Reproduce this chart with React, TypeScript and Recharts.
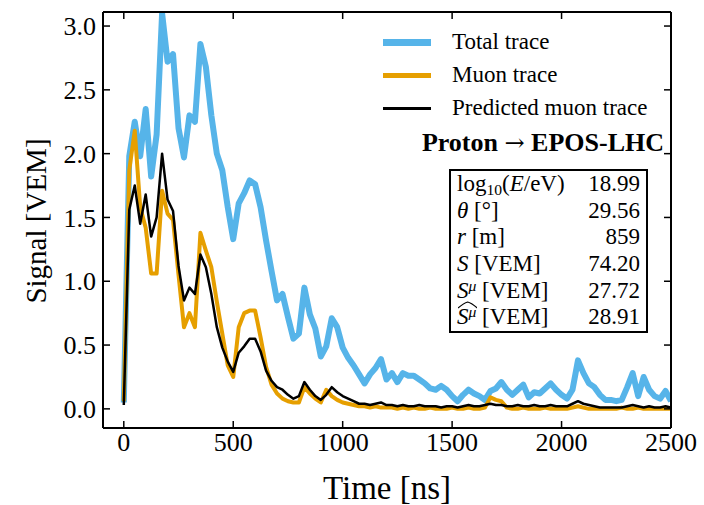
import { Line, LineChart, XAxis, YAxis } from "recharts";

// 25 ns FADC bins
const BIN_NS = 25;

const totalTrace = [
  0.05, 1.98, 2.25, 1.98, 2.35, 1.82, 2.15, 3.1, 2.72, 2.78,
  2.2, 1.97, 2.3, 2.25, 2.86, 2.68, 2.3, 2.0, 1.87, 1.58,
  1.33, 1.61, 1.69, 1.79, 1.76, 1.58, 1.32, 1.08, 0.85, 0.9,
  0.72, 0.55, 0.59, 0.95, 0.74, 0.63, 0.41, 0.49, 0.71, 0.64,
  0.48, 0.4, 0.34, 0.27, 0.2, 0.27, 0.32, 0.39, 0.23, 0.28,
  0.21, 0.28, 0.26, 0.26, 0.23, 0.2, 0.16, 0.15, 0.18, 0.15,
  0.1, 0.06, 0.11, 0.15, 0.12, 0.1, 0.07, 0.14, 0.16, 0.21,
  0.15, 0.11, 0.15, 0.19, 0.09, 0.13, 0.12, 0.16, 0.2, 0.15,
  0.11, 0.08, 0.15, 0.38, 0.28, 0.2, 0.17, 0.11, 0.07, 0.07,
  0.06, 0.07, 0.17, 0.28, 0.1, 0.25, 0.15, 0.1, 0.08, 0.14,
  0.06,
];

const muonTrace = [
  0.06, 1.87, 2.18, 1.58, 1.42, 1.06, 1.06, 1.71, 1.53, 1.48,
  1.05, 0.64, 0.75, 0.64, 1.38, 1.24, 1.11, 0.84, 0.59, 0.34,
  0.25, 0.64, 0.75, 0.77, 0.77, 0.56, 0.33, 0.19, 0.12, 0.08,
  0.06, 0.05, 0.05, 0.17, 0.12, 0.08, 0.05, 0.15, 0.1, 0.07,
  0.05, 0.04, 0.03, 0.02, 0.02, 0.01, 0.02, 0.01, 0.01, 0.01,
  0.0, 0.01, 0.0, 0.01, 0.0, 0.0, 0.01, 0.0, 0.0, 0.0,
  0.01, 0.0, 0.0, 0.01, 0.0, 0.0, 0.01, 0.09, 0.07, 0.06,
  0.01, 0.0, 0.0, 0.01, 0.0, 0.0, 0.0, 0.01, 0.0, 0.0,
  0.0, 0.0, 0.01, 0.02, 0.01, 0.0, 0.0, 0.0, 0.0, 0.0,
  0.0, 0.01, 0.0, 0.0, 0.01, 0.0, 0.0, 0.0, 0.0, 0.0,
  0.0,
];

const predictedTrace = [
  0.03, 1.56, 1.75, 1.45, 1.68, 1.35, 1.5, 2.0, 1.64, 1.55,
  1.12, 0.85, 0.95, 0.9, 1.21, 1.11, 0.9, 0.64, 0.48, 0.37,
  0.29, 0.44, 0.49, 0.55, 0.55, 0.45, 0.3, 0.22, 0.17, 0.15,
  0.11, 0.08, 0.1, 0.21, 0.15, 0.1, 0.07, 0.11, 0.17, 0.13,
  0.1, 0.08, 0.06, 0.04, 0.04, 0.03, 0.04, 0.05, 0.03, 0.03,
  0.02, 0.03, 0.02, 0.02, 0.03, 0.02, 0.02, 0.02, 0.01, 0.02,
  0.02, 0.01, 0.02, 0.03, 0.02, 0.02, 0.03, 0.04, 0.03, 0.03,
  0.02, 0.02, 0.03, 0.02, 0.02, 0.03, 0.02, 0.02, 0.03, 0.02,
  0.02, 0.02, 0.04, 0.06, 0.04, 0.03, 0.02, 0.01, 0.01, 0.01,
  0.01, 0.01, 0.02, 0.03, 0.02, 0.01, 0.02, 0.01, 0.01, 0.02,
  0.01,
];

const xTicks = [0, 500, 1000, 1500, 2000, 2500];
const yTicks = [0, 0.5, 1, 1.5, 2, 2.5, 3];

const infoValues = ["18.99", "29.56", "859", "74.20", "27.72", "28.91"];

const data = totalTrace.map((v, i) => ({
  t: i * BIN_NS,
  total: v,
  muon: muonTrace[i],
  predicted: predictedTrace[i],
}));

const FONT = "'Liberation Serif', 'DejaVu Serif', serif";
const BLUE = "#56B4E9";
const ORANGE = "#E69F00";

const TICK_LEN = 7;
const axisLine = { stroke: "#000", strokeWidth: 2 };

// ticks point into the plot, labels sit outside
function BottomTick({ x, y, payload }: any) {
  const gap = 5;
  return (
    <g>
      <line x1={x} x2={x} y1={y - gap} y2={y - gap - TICK_LEN} stroke="#000" strokeWidth={1.5} />
      <text
        x={x}
        y={y}
        dy="0.71em"
        textAnchor="middle"
        fontFamily={FONT}
        style={{ fontFamily: FONT, fontSize: 26, fill: "#000" }}
      >
        {payload.value}
      </text>
    </g>
  );
}

function LeftTick({ x, y, payload }: any) {
  const gap = 7;
  return (
    <g>
      <line x1={x + gap} x2={x + gap + TICK_LEN} y1={y} y2={y} stroke="#000" strokeWidth={1.5} />
      <text
        x={x}
        y={y}
        dy="0.355em"
        textAnchor="end"
        fontFamily={FONT}
        style={{ fontFamily: FONT, fontSize: 26, fill: "#000" }}
      >
        {Number(payload.value).toFixed(1)}
      </text>
    </g>
  );
}

function TopTick({ x, y }: any) {
  const gap = 2;
  return <line x1={x} x2={x} y1={y + gap} y2={y + gap + TICK_LEN} stroke="#000" strokeWidth={1.5} />;
}

function RightTick({ x, y }: any) {
  const gap = 2;
  return <line x1={x - gap} x2={x - gap - TICK_LEN} y1={y} y2={y} stroke="#000" strokeWidth={1.5} />;
}

const legendItems = [
  { label: "Total trace", color: BLUE, width: 7 },
  { label: "Muon trace", color: ORANGE, width: 5 },
  { label: "Predicted muon trace", color: "#000", width: 3 },
];

function Hat({ children }: { children: React.ReactNode }) {
  return (
    <span style={{ position: "relative", display: "inline-block" }}>
      <svg
        style={{ position: "absolute", left: 1, top: -3, width: "100%", height: 8 }}
        viewBox="0 0 20 8"
        preserveAspectRatio="none"
      >
        <path d="M0 7 Q6 2 10 1 Q14 2 20 7" fill="none" stroke="#000" strokeWidth={1.2} />
      </svg>
      {children}
    </span>
  );
}

const sup = { fontSize: "0.68em", position: "relative" as const, top: "-0.45em" };
const sub = { fontSize: "0.68em", position: "relative" as const, top: "0.25em" };

const infoLabels = [
  <span>
    log<span style={sub}>10</span>(<i>E</i>/eV)
  </span>,
  <span>
    <i>θ</i> [°]
  </span>,
  <span>
    <i>r</i> [m]
  </span>,
  <span>
    <i>S</i> [VEM]
  </span>,
  <span>
    <i>S</i>
    <i style={sup}>μ</i> [VEM]
  </span>,
  <span>
    <Hat>
      <i>S</i>
      <i style={sup}>μ</i>
    </Hat>{" "}
    [VEM]
  </span>,
];

export default function App() {
  return (
    <div
      style={{
        position: "absolute",
        left: 0,
        top: 0,
        width: 704,
        height: 505,
        background: "#fff",
        fontFamily: FONT,
        color: "#000",
      }}
    >
      <LineChart
        width={704}
        height={505}
        data={data}
        margin={{ top: 11, right: 32, bottom: 0, left: 0 }}
      >
        <XAxis
          dataKey="t"
          type="number"
          domain={[-95, 2500]}
          ticks={xTicks}
          allowDataOverflow
          height={77}
          axisLine={axisLine}
          tickLine={false}
          tickSize={0}
          tickMargin={5}
          tick={<BottomTick />}
        />
        <XAxis
          xAxisId="top"
          orientation="top"
          dataKey="t"
          type="number"
          domain={[-95, 2500]}
          ticks={xTicks}
          allowDataOverflow
          height={1}
          axisLine={axisLine}
          tickLine={false}
          tickSize={0}
          tickMargin={2}
          tick={<TopTick />}
        />
        <YAxis
          type="number"
          domain={[-0.15, 3.11]}
          ticks={yTicks}
          allowDataOverflow
          width={103}
          axisLine={axisLine}
          tickLine={false}
          tickSize={0}
          tickMargin={7}
          tick={<LeftTick />}
        />
        <YAxis
          yAxisId="right"
          orientation="right"
          type="number"
          domain={[-0.15, 3.11]}
          ticks={yTicks}
          allowDataOverflow
          width={1}
          axisLine={axisLine}
          tickLine={false}
          tickSize={0}
          tickMargin={2}
          tick={<RightTick />}
        />
        <Line
          dataKey="total"
          stroke={BLUE}
          strokeWidth={6}
          strokeLinejoin="round"
          dot={false}
          isAnimationActive={false}
        />
        <Line
          dataKey="muon"
          stroke={ORANGE}
          strokeWidth={4}
          strokeLinejoin="round"
          dot={false}
          isAnimationActive={false}
        />
        <Line
          dataKey="predicted"
          stroke="#000"
          strokeWidth={2.5}
          strokeLinejoin="round"
          dot={false}
          isAnimationActive={false}
        />
      </LineChart>

      {/* axis labels */}
      <div
        style={{
          position: "absolute",
          left: 387,
          top: 488,
          transform: "translate(-50%, -50%)",
          fontSize: 33,
          whiteSpace: "nowrap",
        }}
      >
        Time [ns]
      </div>
      <div
        style={{
          position: "absolute",
          left: 36,
          top: 221,
          transform: "translate(-50%, -50%) rotate(-90deg)",
          fontSize: 29,
          whiteSpace: "nowrap",
        }}
      >
        Signal [VEM]
      </div>

      {/* legend */}
      {legendItems.map((item, i) => (
        <div
          key={item.label}
          style={{
            position: "absolute",
            left: 383,
            top: 42 + i * 33 - 14,
            height: 28,
            display: "flex",
            alignItems: "center",
            fontSize: 23,
            whiteSpace: "nowrap",
          }}
        >
          <div style={{ width: 48, height: item.width, background: item.color, marginRight: 21 }} />
          {item.label}
        </div>
      ))}

      <div
        style={{
          position: "absolute",
          right: 704 - 664,
          top: 143 - 15,
          lineHeight: "30px",
          fontSize: 26,
          fontWeight: "bold",
          whiteSpace: "nowrap",
        }}
      >
        Proton <span style={{ fontFamily: "'DejaVu Serif', serif", fontWeight: "normal", fontSize: 24 }}>→</span> EPOS-LHC
      </div>

      {/* shower info box */}
      <div
        style={{
          position: "absolute",
          left: 449,
          top: 169,
          width: 199,
          height: 164,
          boxSizing: "border-box",
          border: "2px solid #000",
          padding: "0 6px 0 6px",
          fontSize: 23,
        }}
      >
        {infoLabels.map((label, i) => (
          <div
            key={i}
            style={{
              display: "flex",
              justifyContent: "space-between",
              height: 26.7,
              lineHeight: "26.7px",
              whiteSpace: "nowrap",
            }}
          >
            {label}
            <span>{infoValues[i]}</span>
          </div>
        ))}
      </div>
    </div>
  );
}
